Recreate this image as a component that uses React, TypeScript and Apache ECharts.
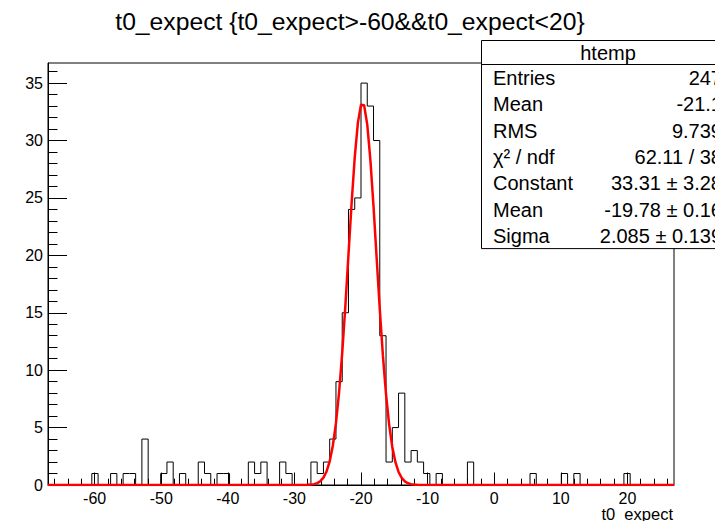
import React, { useEffect, useRef } from "react";
import * as echarts from "echarts";

const TITLE = "t0_expect {t0_expect>-60&&t0_expect<20}";
const X_AXIS_TITLE = "t0_expect";

// histogram binning (100 bins)
const HIST_MIN = -67;
const HIST_MAX = 27;
const BIN_WIDTH = 0.94;
const BIN_COUNTS = [
  0, 0, 0, 0, 0, 0, 0, 1, 0, 0,
  1, 0, 1, 1, 0, 4, 0, 0, 1, 2,
  0, 1, 0, 0, 2, 1, 0, 1, 1, 0,
  0, 0, 2, 1, 2, 0, 0, 2, 1, 0,
  0, 0, 2, 1, 2, 4, 9, 15, 24, 25,
  35, 33, 30, 13, 2, 5, 8, 2, 3, 2,
  1, 0, 1, 0, 0, 0, 0, 2, 0, 0,
  0, 0, 0, 0, 0, 0, 0, 1, 0, 0,
  0, 0, 1, 0, 1, 0, 0, 0, 0, 0,
  0, 0, 1, 0, 0, 0, 0, 0, 0, 0,
];

const X_MAJOR_TICKS = [-60, -50, -40, -30, -20, -10, 0, 10, 20];
const X_MINOR_TICKS = [
  -66, -64, -62, -58, -56, -54, -52, -48, -46, -44, -42, -38, -36, -34, -32,
  -28, -26, -24, -22, -18, -16, -14, -12, -8, -6, -4, -2, 2, 4, 6, 8, 12, 14,
  16, 18, 22, 24, 26,
];
const Y_MAX = 36.75;
const Y_MAJOR_TICKS = [0, 5, 10, 15, 20, 25, 30, 35];
const Y_MINOR_TICKS = [
  1, 2, 3, 4, 6, 7, 8, 9, 11, 12, 13, 14, 16, 17, 18, 19, 21, 22, 23, 24, 26,
  27, 28, 29, 31, 32, 33, 34, 36,
];

// gaussian fit parameters
const FIT_CONSTANT = 33.31;
const FIT_MEAN = -19.78;
const FIT_SIGMA = 2.085;
const FIT_NPX = 200;

const STAT_TITLE = "htemp";
const STAT_LABELS = ["Entries", "Mean", "RMS", "χ² / ndf", "Constant", "Mean", "Sigma"];
const STAT_VALUES = ["247", "-21.1", "9.739", "62.11 / 38", "33.31 ± 3.28", "-19.78 ± 0.16", "2.085 ± 0.139"];

const FONT = "'Liberation Sans', Arial, Helvetica, sans-serif";

export default function App() {
  const ref = useRef<HTMLDivElement>(null);
  useEffect(() => {
    if (!ref.current) return;
    const chart = echarts.init(ref.current, undefined, { renderer: "svg" });

    const histPoints: number[][] = BIN_COUNTS.map((c, i) => [HIST_MIN + i * BIN_WIDTH, c]);
    histPoints.push([HIST_MAX, BIN_COUNTS[BIN_COUNTS.length - 1]]);

    const fitPoints: number[][] = [];
    for (let i = 0; i <= FIT_NPX; i++) {
      const x = HIST_MIN + ((HIST_MAX - HIST_MIN) * i) / FIT_NPX;
      const z = (x - FIT_MEAN) / FIT_SIGMA;
      fitPoints.push([x, FIT_CONSTANT * Math.exp(-0.5 * z * z)]);
    }

    const boxX = 481;
    const boxY = 40;
    const boxW = 260;
    const headerH = 24;
    const rowH = 26.3;
    const boxH = headerH + rowH * STAT_LABELS.length;

    const graphics: any[] = [
      {
        type: "text",
        x: 350,
        y: 21,
        z: 100,
        style: {
          text: TITLE,
          fontSize: 24.7,
          fontFamily: FONT,
          fill: "#000",
          align: "center",
          verticalAlign: "middle",
        },
      },
      {
        type: "text",
        x: 673,
        y: 514,
        z: 100,
        style: {
          text: X_AXIS_TITLE,
          fontSize: 16.5,
          fontFamily: FONT,
          fill: "#000",
          align: "right",
          verticalAlign: "middle",
        },
      },
      {
        type: "rect",
        z: 100,
        shape: { x: boxX + 0.5, y: boxY + 0.5, width: boxW, height: boxH },
        style: { fill: "#fff", stroke: "#000", lineWidth: 1 },
      },
      {
        type: "line",
        z: 101,
        shape: { x1: boxX, y1: boxY + headerH + 0.5, x2: boxX + boxW, y2: boxY + headerH + 0.5 },
        style: { stroke: "#000", lineWidth: 1 },
      },
      {
        type: "text",
        z: 101,
        x: boxX + boxW / 2 - 3,
        y: boxY + headerH / 2 + 1,
        style: {
          text: STAT_TITLE,
          fontSize: 20,
          fontFamily: FONT,
          fill: "#000",
          align: "center",
          verticalAlign: "middle",
        },
      },
    ];
    STAT_LABELS.forEach((lab, i) => {
      const cy = boxY + headerH + rowH * (i + 0.5) + 1;
      graphics.push({
        type: "text",
        z: 101,
        x: 493,
        y: cy,
        style: { text: lab, fontSize: 20, fontFamily: FONT, fill: "#000", align: "left", verticalAlign: "middle" },
      });
      graphics.push({
        type: "text",
        z: 101,
        x: 722,
        y: cy,
        style: {
          text: STAT_VALUES[i],
          fontSize: 20,
          fontFamily: FONT,
          fill: "#000",
          align: "right",
          verticalAlign: "middle",
        },
      });
    });

    const option: any = {
      animation: false,
      backgroundColor: "#fff",
      grid: {
        left: 48,
        right: 41,
        top: 63,
        bottom: 36,
        show: true,
        borderColor: "#000",
        borderWidth: 1,
        backgroundColor: "transparent",
      },
      xAxis: [
        {
          type: "value",
          position: "bottom",
          min: HIST_MIN,
          max: HIST_MAX,
          axisLine: { show: true, onZero: false, lineStyle: { color: "#000", width: 1 } },
          axisTick: {
            show: true,
            inside: true,
            length: 12.5,
            customValues: X_MAJOR_TICKS,
            lineStyle: { color: "#000", width: 1 },
          },
          axisLabel: {
            customValues: X_MAJOR_TICKS,
            color: "#000",
            fontSize: 16,
            fontFamily: FONT,
            margin: 5,
          },
          splitLine: { show: false },
        },
        {
          type: "value",
          position: "bottom",
          min: HIST_MIN,
          max: HIST_MAX,
          axisLine: { show: false, onZero: false },
          axisTick: {
            show: true,
            inside: true,
            length: 6.3,
            customValues: X_MINOR_TICKS,
            lineStyle: { color: "#000", width: 1 },
          },
          axisLabel: { show: false },
          splitLine: { show: false },
        },
      ],
      yAxis: [
        {
          type: "value",
          position: "left",
          min: 0,
          max: Y_MAX,
          axisLine: { show: true, onZero: false, lineStyle: { color: "#000", width: 1 } },
          axisTick: {
            show: true,
            inside: true,
            length: 19,
            customValues: Y_MAJOR_TICKS,
            lineStyle: { color: "#000", width: 1 },
          },
          axisLabel: {
            customValues: Y_MAJOR_TICKS,
            color: "#000",
            fontSize: 16,
            fontFamily: FONT,
            margin: 5,
          },
          splitLine: { show: false },
        },
        {
          type: "value",
          position: "left",
          min: 0,
          max: Y_MAX,
          axisLine: { show: false, onZero: false },
          axisTick: {
            show: true,
            inside: true,
            length: 9.5,
            customValues: Y_MINOR_TICKS,
            lineStyle: { color: "#000", width: 1 },
          },
          axisLabel: { show: false },
          splitLine: { show: false },
        },
      ],
      series: [
        {
          type: "line",
          name: "htemp",
          xAxisIndex: 0,
          yAxisIndex: 0,
          step: "end",
          data: histPoints,
          symbol: "none",
          lineStyle: { color: "#000", width: 1 },
          itemStyle: { color: "#000" },
          z: 3,
        },
        {
          type: "line",
          name: "gaus",
          xAxisIndex: 0,
          yAxisIndex: 0,
          data: fitPoints,
          symbol: "none",
          lineStyle: { color: "#ff0000", width: 2.5 },
          itemStyle: { color: "#ff0000" },
          z: 4,
        },
      ],
      graphic: graphics,
    };
    chart.setOption(option);
    return () => chart.dispose();
  }, []);

  return (
    <div
      ref={ref}
      style={{ position: "fixed", left: 0, top: 0, width: 715, height: 521, background: "#fff" }}
    />
  );
}
